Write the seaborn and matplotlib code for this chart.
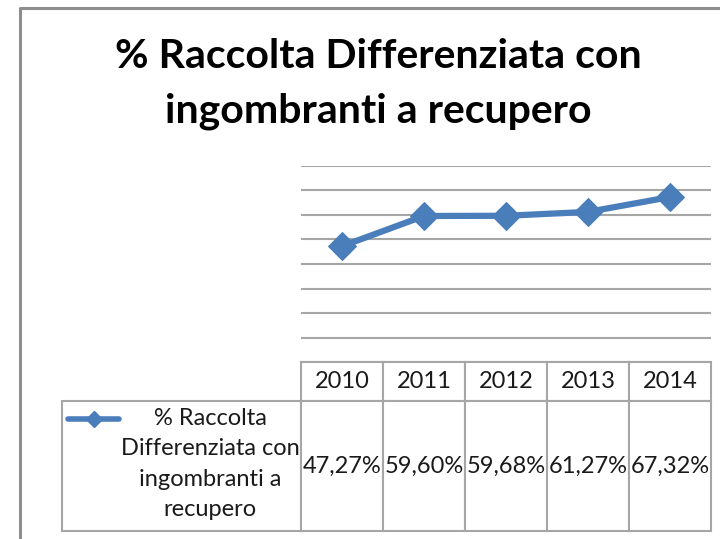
import matplotlib
matplotlib.use("Agg")
import matplotlib.pyplot as plt
import seaborn as sns
import pandas as pd
from matplotlib.lines import Line2D

# dati
years = ["2010", "2011", "2012", "2013", "2014"]
values = [47.27, 59.60, 59.68, 61.27, 67.32]
value_labels = ["47,27%", "59,60%", "59,68%", "61,27%", "67,32%"]
series_label = "% Raccolta\nDifferenziata con\ningombranti a\nrecupero"
title = "% Raccolta Differenziata con\ningombranti a recupero"

W, H = 720, 539
BLUE = "#4A7EBB"
GRID = "#A6A6A6"
BORDER = "#8E8E8E"


def fx(px):
    return px / W


def fy(py):
    return 1 - py / H


sns.set_theme(style="white")
plt.rcParams["font.family"] = ["Lato", "DejaVu Sans"]

fig = plt.figure(figsize=(7.2, 5.39), dpi=100)
fig.patch.set_facecolor("white")

# area del grafico (in pixel dell'immagine)
left, right, top, bottom = 301, 711, 166, 362
ax = fig.add_axes([fx(left), fy(bottom), (right - left) / W, (bottom - top) / H])

df = pd.DataFrame({"anno": years, "valore": values})
sns.lineplot(data=df, x="anno", y="valore", ax=ax, color=BLUE, lw=4.5,
             marker="D", markersize=14, markeredgecolor=BLUE, sort=False)
ax.set_xlim(-0.5, 4.5)
ax.set_ylim(0, 80)
ax.set_yticks(range(0, 81, 10))
ax.yaxis.grid(True, color=GRID, lw=1.5)
ax.set_axisbelow(True)
ax.tick_params(left=False, bottom=False, labelleft=False, labelbottom=False)
for s in ax.spines.values():
    s.set_visible(False)
ax.set_xlabel("")
ax.set_ylabel("")

# tabella dati sotto il grafico (prima colonna = etichetta della serie)
tab_left, tab_bottom, head_h, row_h = 62, 531, 39, 130
col_w = (right - left) / len(years)
label_w = right - tab_left - len(years) * col_w
tbl = ax.table(cellText=[[""] + value_labels], colLabels=[""] + years,
               cellLoc="center", colLoc="center",
               bbox=[(tab_left - left) / (right - left), -(tab_bottom - bottom) / (bottom - top),
                     (right - tab_left) / (right - left), (tab_bottom - bottom) / (bottom - top)])
tbl.auto_set_font_size(False)
tbl.set_fontsize(17)
for (r, c), cell in tbl.get_celld().items():
    cell.set_edgecolor(GRID)
    cell.set_linewidth(1.5)
    cell.set_height(head_h if r == 0 else row_h)
    cell.set_width(label_w if c == 0 else col_w)
    cell.get_text().set_color("#1a1a1a")
tbl[0, 0].set_visible(False)

# etichetta della serie con chiave di legenda
fig.text(fx(210), fy(464), series_label, ha="center", va="center",
         multialignment="center", fontsize=17, linespacing=1.55, color="#1a1a1a")
fig.add_artist(Line2D([fx(68), fx(94), fx(119)], [fy(419)] * 3, transform=fig.transFigure,
                      color=BLUE, lw=4, marker="D", markersize=8, markevery=[1]))

# titolo
fig.text(fx(378), fy(84), title, ha="center", va="center", fontsize=29.5,
         fontweight="bold", linespacing=1.6, color="black")

# bordo esterno del grafico
fig.add_artist(Line2D([fx(19.5), fx(19.5), fx(720)], [fy(539), fy(7.5), fy(7.5)],
                      transform=fig.transFigure, color=BORDER, lw=2.2))

fig.savefig("out.png", dpi=100)
